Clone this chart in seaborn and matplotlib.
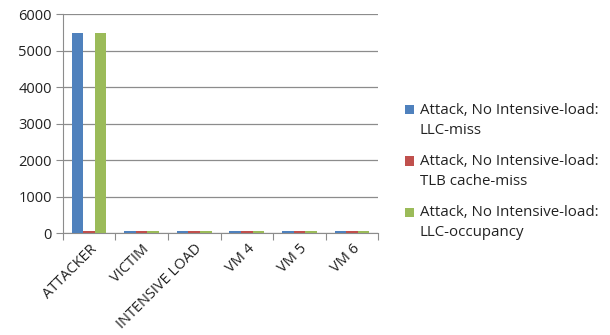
import pandas as pd
import numpy as np
import matplotlib
matplotlib.use('Agg')
import matplotlib.pyplot as plt
import seaborn as sns

# data
categories = ['ATTACKER', 'VICTIM', 'INTENSIVE LOAD', 'VM 4', 'VM 5', 'VM 6']
llc_miss = [5480, 60, 60, 60, 60, 60]
tlb_miss = [60, 60, 60, 60, 60, 60]
llc_occupancy = [5480, 60, 60, 60, 60, 60]
series_names = ['Attack, No Intensive-load:\nLLC-miss',
                'Attack, No Intensive-load:\nTLB cache-miss',
                'Attack, No Intensive-load:\nLLC-occupancy']
colors = ['#4F81BD', '#C0504D', '#9BBB59']

rows = []
for name, vals in zip(series_names, [llc_miss, tlb_miss, llc_occupancy]):
    for c, v in zip(categories, vals):
        rows.append({'category': c, 'series': name, 'value': v})
df = pd.DataFrame(rows)

sns.set_style('white')
plt.rcParams['font.family'] = ['Open Sans', 'DejaVu Sans']

fig = plt.figure(figsize=(6.1, 3.35), dpi=100)
ax = fig.add_axes([0.103, 0.304, 0.517, 0.654])

sns.barplot(data=df, x='category', y='value', hue='series', order=categories,
            hue_order=series_names, palette=colors, width=0.66, saturation=1,
            linewidth=0, edgecolor='none', ax=ax, zorder=3)

ax.set_ylim(0, 6000)
ax.set_yticks(np.arange(0, 6001, 1000))
ax.set_xlim(-0.5, len(categories) - 0.5)
ax.yaxis.grid(True, color='#8c8c8c', linewidth=0.9, zorder=0)
ax.set_axisbelow(True)
ax.set_xlabel('')
ax.set_ylabel('')

for side in ['top', 'right']:
    ax.spines[side].set_visible(False)
ax.spines['left'].set_color('#8c8c8c')
ax.spines['bottom'].set_color('#8c8c8c')

# tick marks at category boundaries, labels at centres
ax.set_xticks(np.arange(-0.5, len(categories), 1.0))
ax.set_xticklabels([])
ax.set_xticks(np.arange(len(categories)), minor=True)
ax.set_xticklabels(categories, minor=True, rotation=45, ha='right',
                   rotation_mode='anchor', fontsize=10.5, color='#222222')
ax.tick_params(axis='x', which='major', length=5, color='#8c8c8c', bottom=True)
ax.tick_params(axis='x', which='minor', length=0, pad=6)
ax.tick_params(axis='y', length=5, color='#8c8c8c', left=True,
               labelsize=10.5, labelcolor='#222222', pad=3)

fs = 10.8
ls = 1.45
leg = ax.legend(loc='center left', bbox_to_anchor=(0.641, 0.488),
                bbox_transform=fig.transFigure, frameon=False,
                fontsize=fs, handlelength=0.6, handleheight=0.6,
                handletextpad=0.4, labelspacing=1.1)
for t in leg.get_texts():
    t.set_color('#222222')
    t.set_linespacing(ls)
# put the colour square next to the first line of each label, like Excel
for p in leg.get_patches():
    p.set_y(p.get_y() + fs * ls / 2)

fig.savefig('out.png', dpi=100)
